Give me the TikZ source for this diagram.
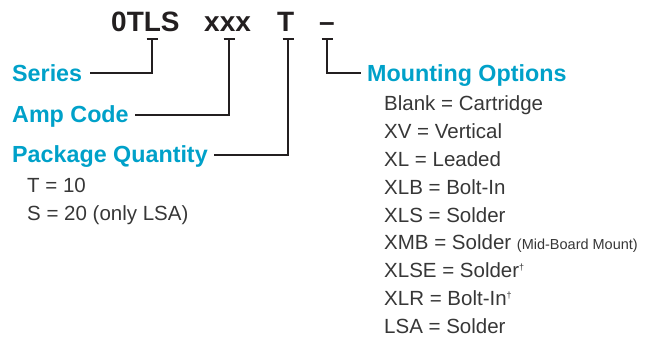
\documentclass[tikz,border=0pt]{standalone}
\usepackage{fontspec}
\setmainfont{Liberation Sans}
\definecolor{lf}{RGB}{0,161,201}
\definecolor{ink}{RGB}{35,31,32}
\definecolor{txt}{RGB}{55,55,55}
\begin{document}
\begin{tikzpicture}[x=1pt,y=-1pt,
  hdr/.style={inner sep=0pt,anchor=base west,font=\fontsize{28}{30}\selectfont\bfseries,text=ink},
  lbl/.style={inner sep=0pt,anchor=base west,font=\fontsize{23.3}{26}\selectfont\bfseries,text=lf},
  item/.style={inner sep=0pt,anchor=base west,font=\fontsize{20.5}{24}\selectfont,text=txt},
  conn/.style={draw=ink,line width=2.4pt},
  tick/.style={draw=ink,line width=2.4pt}]
\useasboundingbox (0,0) rectangle (663,339);
% header
\node[hdr] (h0) at (111,32) {0TLS};
\node[hdr] (hx) at (204,32) {xxx};
\node[hdr] (hT) at (277,32) {T};
\node[hdr] (hd) at (319,32) {–};
% labels
\node[lbl] (series) at (12,82) {Series};
\node[lbl] (amp) at (12,123) {Amp Code};
\node[lbl] (pkg) at (12,163) {Package Quantity};
\node[lbl] (mount) at (367,82) {Mounting Options};
% tick coordinates
\coordinate (s1) at (152,39);
\coordinate (a1) at (229,39);
\coordinate (p1) at (288,39);
\coordinate (m1) at (327,39);
\foreach \c in {s1,a1,p1,m1}{\draw[tick] ([xshift=-5.5pt]\c) -- ([xshift=5.5pt]\c);}
\draw[conn] (s1) |- ([xshift=8pt]series.east |- 0,73);
\draw[conn] (a1) |- ([xshift=6pt]amp.east |- 0,115);
\draw[conn] (p1) |- ([xshift=6pt]pkg.east |- 0,155);
\draw[conn] (m1) |- ([xshift=-6pt]mount.west |- 0,73);
% package quantity items
\node[item] (q1) at (27,193) {T = 10};
\node[item] (q2) at (27,220.5) {S = 20 (only LSA)};
% mounting items
\node[item] (o1) at (384,111) {Blank = Cartridge};
\node[item] (o2) at (384,138.75) {XV = Vertical};
\node[item] (o3) at (384,166.5) {XL = Leaded};
\node[item] (o4) at (384,194.25) {XLB = Bolt-In};
\node[item] (o5) at (384,222) {XLS = Solder};
\node[item] (o6) at (384,249.75) {XMB = Solder {\fontsize{14.5}{16}\selectfont (Mid-Board Mount)}};
\node[item] (o7) at (384,277.5) {XLSE = Solder\raisebox{7pt}{\fontsize{9}{11}\selectfont †}};
\node[item] (o8) at (384,305.25) {XLR = Bolt-In\raisebox{7pt}{\fontsize{9}{11}\selectfont †}};
\node[item] (o9) at (384,333) {LSA = Solder};
\end{tikzpicture}
\end{document}
